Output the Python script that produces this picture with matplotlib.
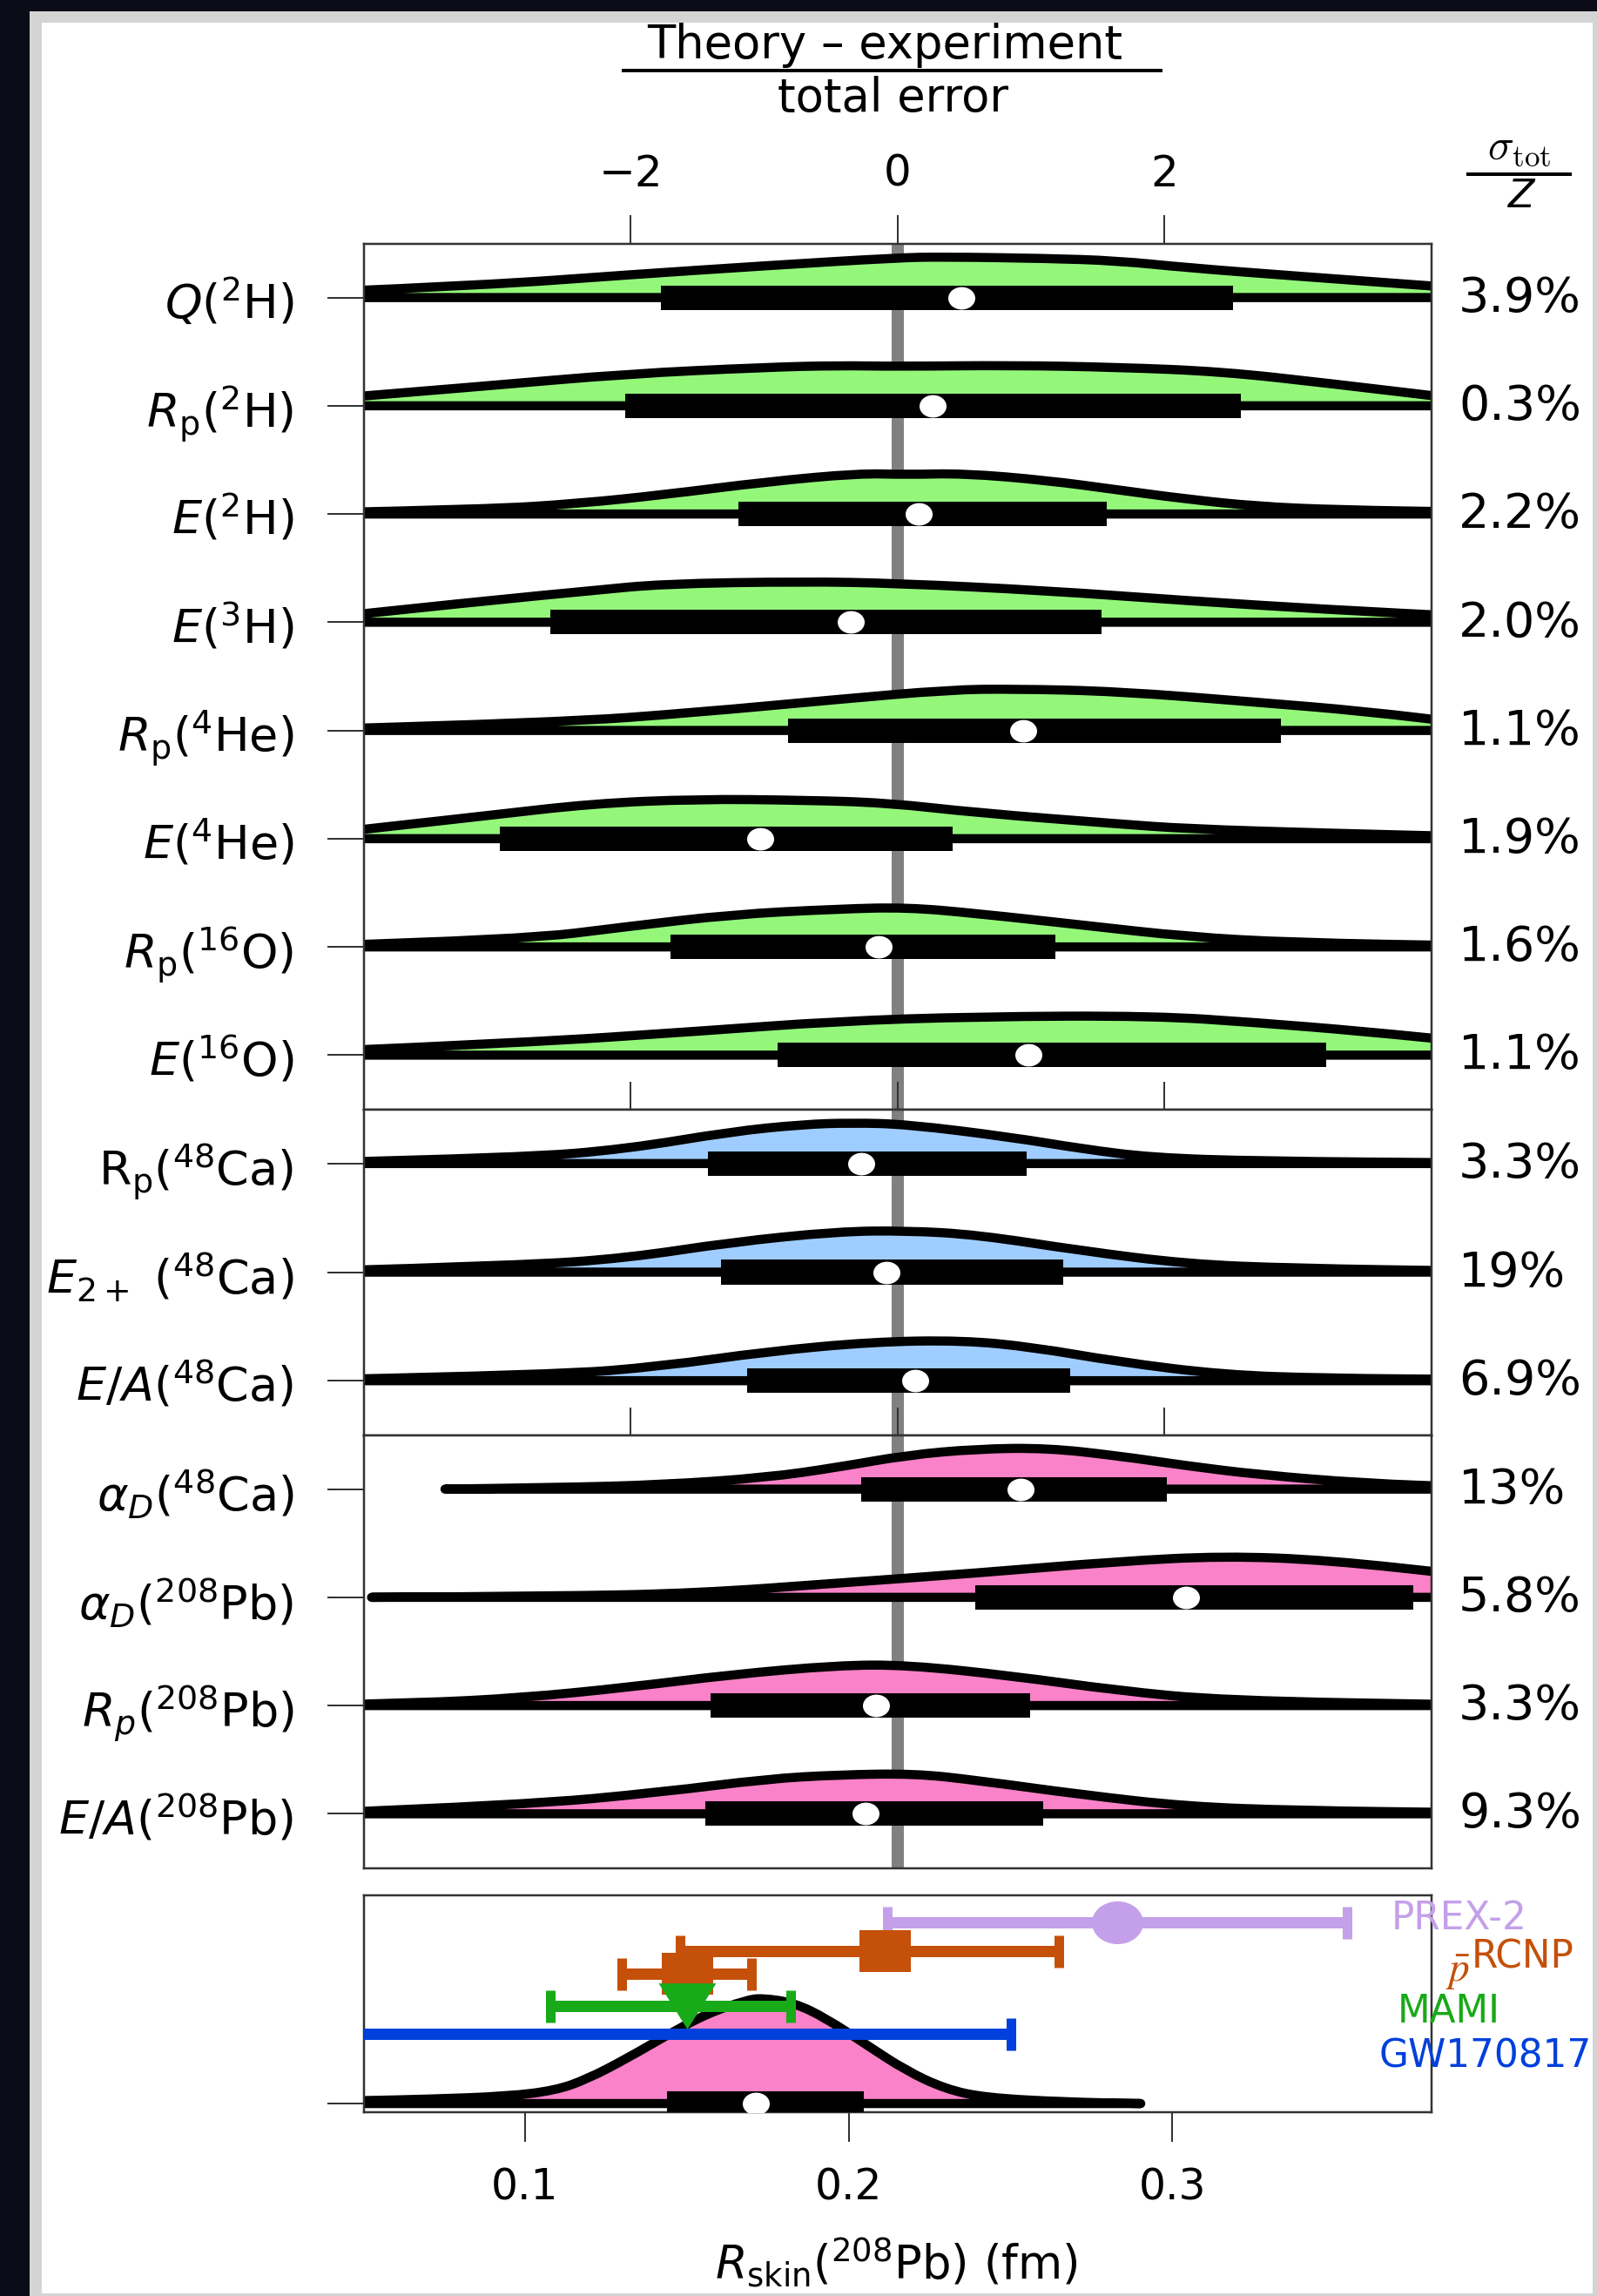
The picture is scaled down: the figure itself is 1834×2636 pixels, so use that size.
import numpy as np
import matplotlib
matplotlib.use('Agg')
import matplotlib.pyplot as plt
import matplotlib.transforms as mtransforms
from matplotlib.path import Path
from matplotlib.patches import Rectangle, PathPatch
from matplotlib.lines import Line2D

plt.rcParams['font.family'] = ['DejaVu Sans']
plt.rcParams['mathtext.fontset'] = 'dejavusans'

W, H, DPI = 1834, 2636, 100
PX = 72.0 / DPI   # points per pixel

# ---------------- data: (theory - experiment) / total error ----------------
light_labels = [r'$Q(^{2}\mathrm{H})$', r'$R_{\mathrm{p}}(^{2}\mathrm{H})$', r'$E(^{2}\mathrm{H})$',
                r'$E(^{3}\mathrm{H})$', r'$R_{\mathrm{p}}(^{4}\mathrm{He})$', r'$E(^{4}\mathrm{He})$',
                r'$R_{\mathrm{p}}(^{16}\mathrm{O})$', r'$E(^{16}\mathrm{O})$']
light_pct = ['3.9%', '0.3%', '2.2%', '2.0%', '1.1%', '1.9%', '1.6%', '1.1%']
light_q1 = [-1.77, -2.04, -1.19, -2.60, -0.82, -2.98, -1.70, -0.90]
light_q3 = [2.51, 2.57, 1.57, 1.53, 2.87, 0.41, 1.18, 3.21]
light_med = [0.48, 0.26, 0.16, -0.35, 0.94, -1.03, -0.14, 0.98]
light_kx = [
    [-4.3, -3.08, -2.03, -0.98, 0, 0.34, 1.12, 1.65, 2.17, 2.96, 4.3],
    [-4.3, -3.08, -2.03, -0.98, -0.45, 0, 0.86, 1.65, 2.43, 3.22, 4.3],
    [-4.3, -3.08, -2.39, -1.76, -0.98, -0.29, 0.07, 0.49, 1.12, 1.65, 2.17, 2.70, 3.3, 4.3],
    [-4.3, -3.08, -2.29, -1.76, -0.71, 0, 1.12, 2.17, 3.22, 4.3],
    [-4.3, -2.55, -1.50, -0.45, 0.39, 0.86, 1.65, 2.70, 3.49, 4.3],
    [-4.3, -3.08, -2.29, -1.50, -0.71, -0.08, 0.60, 1.65, 2.17, 3.22, 4.3],
    [-4.3, -2.81, -2.03, -1.24, -0.45, 0.07, 0.60, 1.39, 2.17, 2.96, 4.3],
    [-4.3, -2.81, -1.50, -0.45, 0.60, 1.91, 2.70, 3.49, 4.3],
]
light_kh = [
    [0.052, 0.115, 0.209, 0.295, 0.368, 0.376, 0.362, 0.340, 0.276, 0.201, 0.080],
    [0.060, 0.183, 0.295, 0.356, 0.372, 0.364, 0.374, 0.356, 0.316, 0.209, 0.050],
    [0.012, 0.043, 0.097, 0.177, 0.298, 0.376, 0.364, 0.376, 0.311, 0.223, 0.137, 0.070, 0.038, 0.018],
    [0.040, 0.199, 0.292, 0.355, 0.376, 0.360, 0.292, 0.199, 0.118, 0.050],
    [0.012, 0.072, 0.167, 0.287, 0.376, 0.384, 0.362, 0.260, 0.179, 0.060],
    [0.045, 0.212, 0.324, 0.366, 0.356, 0.332, 0.239, 0.137, 0.091, 0.051, 0.018],
    [0.012, 0.067, 0.187, 0.300, 0.350, 0.366, 0.308, 0.201, 0.094, 0.040, 0.010],
    [0.035, 0.113, 0.220, 0.314, 0.356, 0.364, 0.300, 0.220, 0.120],
]

ca_labels = [r'$\mathrm{R}_{\mathrm{p}}(^{48}\mathrm{Ca})$', r'$E_{2+}\ (^{48}\mathrm{Ca})$',
             r'$E/A(^{48}\mathrm{Ca})$']
ca_pct = ['3.3%', '19%', '6.9%']
ca_q1 = [-1.42, -1.32, -1.13]
ca_q3 = [0.97, 1.24, 1.29]
ca_med = [-0.27, -0.08, 0.13]
ca_kx = [
    [-4.3, -2.81, -2.03, -1.24, -0.71, -0.35, 0.07, 0.86, 1.39, 1.91, 2.70, 4.3],
    [-4.3, -2.81, -2.03, -1.24, -0.45, 0.07, 0.60, 1.39, 2.17, 2.96, 4.3],
    [-4.3, -2.55, -1.76, -0.98, -0.19, 0.49, 1.02, 1.65, 2.44, 3.22, 4.3],
]
ca_kh = [
    [0.010, 0.054, 0.134, 0.295, 0.360, 0.375, 0.362, 0.241, 0.134, 0.054, 0.022, 0.006],
    [0.010, 0.062, 0.129, 0.276, 0.374, 0.382, 0.344, 0.195, 0.075, 0.035, 0.010],
    [0.010, 0.054, 0.134, 0.268, 0.358, 0.372, 0.308, 0.175, 0.054, 0.022, 0.012],
]

heavy_labels = [r'$\alpha_D(^{48}\mathrm{Ca})$', r'$\alpha_D(^{208}\mathrm{Pb})$',
                r'$R_p(^{208}\mathrm{Pb})$', r'$E/A(^{208}\mathrm{Pb})$']
heavy_pct = ['13%', '5.8%', '3.3%', '9.3%']
heavy_q1 = [-0.27, 0.58, -1.40, -1.44]
heavy_q3 = [2.02, 3.86, 0.99, 1.09]
heavy_med = [0.92, 2.16, -0.16, -0.24]
heavy_kx = [
    [-3.39, -2.55, -1.76, -0.98, -0.45, 0.07, 0.60, 1.12, 1.65, 2.17, 2.70, 3.49, 4.3],
    [-3.94, -2.55, -1.50, -0.45, 0.60, 1.65, 2.44, 3.22, 4.3],
    [-4.3, -3.6, -2.81, -2.03, -1.24, -0.45, 0.07, 0.86, 1.65, 2.44, 4.3],
    [-4.3, -2.81, -1.76, -0.98, -0.45, 0.13, 0.60, 1.39, 2.17, 3.0, 4.3],
]
heavy_kh = [
    [0.0, 0.014, 0.040, 0.107, 0.201, 0.314, 0.372, 0.380, 0.308, 0.215, 0.134, 0.054, 0.018],
    [0.0, 0.010, 0.038, 0.131, 0.225, 0.332, 0.382, 0.345, 0.200],
    [0.006, 0.022, 0.072, 0.167, 0.287, 0.372, 0.376, 0.274, 0.139, 0.046, 0.006],
    [0.008, 0.080, 0.201, 0.322, 0.360, 0.372, 0.308, 0.175, 0.067, 0.030, 0.010],
]

# R_skin(208Pb) posterior (fm)
skin_kx = [0.030, 0.0503, 0.0699, 0.0946, 0.1094, 0.1192, 0.1315, 0.1438, 0.1561, 0.1684,
           0.1733, 0.1832, 0.1930, 0.2053, 0.2176, 0.2299, 0.2422, 0.2668, 0.2902]
skin_kh = [0.015, 0.027, 0.040, 0.067, 0.121, 0.225, 0.416, 0.630, 0.829, 0.955,
           0.975, 0.930, 0.788, 0.547, 0.306, 0.134, 0.054, 0.014, 0.0]
skin_q1, skin_q3, skin_med = 0.1438, 0.2046, 0.1713

# experiments: value, lower end, upper end
exp_names = ['GW170817', 'PREX-2', 'RCNP', 'pbar', 'MAMI']
exp_val = [0.125, 0.283, 0.211, 0.150, 0.150]
exp_lo = [0.000, 0.212, 0.148, 0.130, 0.108]
exp_hi = [0.250, 0.354, 0.265, 0.170, 0.182]
exp_row = [0.644, 1.676, 1.408, 1.199, 0.903]
exp_col = ['#0040dc', '#c4a0ea', '#c4500a', '#c4500a', '#18aa18']

green, blue, pink = '#94f77a', '#a0cdff', '#fa82c8'
spine_c = '#333333'
LW = 10.5 * PX
BOX_H = 28 / 124.3

# marker shapes (picture is slightly stretched horizontally)
circ = Path.unit_circle()
ell_m = Path(circ.vertices * np.array([1.2, 1.0]), circ.codes)
sq_m = Path([(-1.25, -1), (1.25, -1), (1.25, 1), (-1.25, 1), (-1.25, -1)],
            [Path.MOVETO, Path.LINETO, Path.LINETO, Path.LINETO, Path.CLOSEPOLY])
tri_m = Path([(-1.25, 1), (1.25, 1), (0, -1), (-1.25, 1)],
             [Path.MOVETO, Path.LINETO, Path.LINETO, Path.CLOSEPOLY])
exp_marker = [None, ell_m, sq_m, sq_m, tri_m]
exp_ms = [0, 59, 59, 59, 66]

fig = plt.figure(figsize=(W / DPI, H / DPI), dpi=DPI, facecolor='white')
tr = mtransforms.Affine2D().scale(1, -1).translate(0, H)   # pixel coords, y from top


def px_axes(l, t, r, b):
    return fig.add_axes([l / W, 1 - b / H, (r - l) / W, (b - t) / H])


def violin(ax, kx, kh, row, col, up):
    # knots are used as quadratic Bezier control points, so the outline is drawn smooth
    pts = [(x, row + up * h) for x, h in zip(kx, kh)]
    verts = [pts[0]]
    codes = [Path.MOVETO]
    for i in range(1, len(pts) - 1):
        mid = ((pts[i][0] + pts[i + 1][0]) / 2, (pts[i][1] + pts[i + 1][1]) / 2)
        verts += [pts[i], mid]
        codes += [Path.CURVE3, Path.CURVE3]
    verts += [pts[-1], (kx[-1], row), (kx[0], row), pts[0]]
    codes += [Path.LINETO, Path.LINETO, Path.LINETO, Path.CLOSEPOLY]
    ax.add_patch(PathPatch(Path(verts, codes), facecolor=col, edgecolor='black', lw=LW,
                           joinstyle='round', capstyle='round', zorder=2))


def box(ax, q1, q3, med, row):
    ax.add_patch(Rectangle((q1, row - BOX_H / 2), q3 - q1, BOX_H, facecolor='black',
                           edgecolor='none', zorder=3))
    ax.plot([med], [row], marker=ell_m, ms=31 * PX, color='white', mew=0, zorder=4)


def style(ax):
    for s in ax.spines.values():
        s.set_linewidth(2.5 * PX)
        s.set_color(spine_c)
    ax.tick_params(axis='y', left=True, right=False, direction='out', length=42 * PX,
                   width=2 * PX, color=spine_c, pad=38 * PX, labelsize=39)


ax1 = px_axes(417.5, 279.5, 1644, 1273.5)
ax2 = px_axes(417.5, 1273.5, 1644, 1647.5)
ax3 = px_axes(417.5, 1647.5, 1644, 2144.5)
ax4 = px_axes(417.5, 2176, 1644, 2425)

panels = [(ax1, light_labels, light_pct, light_kx, light_kh, light_q1, light_q3, light_med, green),
          (ax2, ca_labels, ca_pct, ca_kx, ca_kh, ca_q1, ca_q3, ca_med, blue),
          (ax3, heavy_labels, heavy_pct, heavy_kx, heavy_kh, heavy_q1, heavy_q3, heavy_med, pink)]

for ax, labs, pct, kx, kh, q1, q3, med, col in panels:
    n = len(labs)
    ax.set_xlim(-4, 4)
    ax.set_ylim(n - 0.5, -0.5)
    ax.axvline(0, color='#808080', lw=14 * PX, zorder=1)
    for i in range(n):
        violin(ax, kx[i], kh[i], i, col, -1)
        box(ax, q1[i], q3[i], med[i], i)
    style(ax)
    ax.set_yticks(range(n))
    ax.set_yticklabels(labs)
    ax.set_xticks([-2, 0, 2])
    ax.tick_params(axis='x', bottom=False, labelbottom=False, top=True, labeltop=False,
                   direction='out', length=32 * PX, width=2 * PX, color=spine_c)
    ptr = mtransforms.offset_copy(ax.get_yaxis_transform(), fig=fig, y=5 * PX, units='points')
    for i, p in enumerate(pct):
        ax.text(1.0253, i, p, transform=ptr, ha='left', va='center_baseline', fontsize=40)

ax1.tick_params(axis='x', labeltop=True, length=33 * PX, pad=23 * PX, labelsize=36)

# bottom panel: R_skin
ax4.set_xlim(0.0502, 0.380)
ax4.set_ylim(-0.080, 1.923)
violin(ax4, skin_kx, skin_kh, 0, pink, 1)
box(ax4, skin_q1, skin_q3, skin_med, 0)
for v, lo, hi, r, c, m, ms in zip(exp_val, exp_lo, exp_hi, exp_row, exp_col, exp_marker, exp_ms):
    ax4.errorbar([v], [r], xerr=[[v - lo], [hi - v]], fmt='none', ecolor=c,
                 elinewidth=13 * PX, capsize=18.5 * PX, capthick=11 * PX, zorder=5)
    if m is not None:
        ax4.plot([v], [r], marker=m, ms=ms * PX, color=c, mew=0, zorder=6)
style(ax4)
ax4.set_yticks([0])
ax4.set_yticklabels([''])
ax4.set_xticks([0.1, 0.2, 0.3])
ax4.set_xticklabels(['0.1', '0.2', '0.3'])
ax4.tick_params(axis='x', top=False, bottom=True, direction='out', length=34 * PX,
                width=2 * PX, color=spine_c, pad=28 * PX, labelsize=35)

# experiment labels
fig.text(1598, 2215, 'PREX-2', color='#c4a0ea', fontsize=31.5, transform=tr, va='baseline')
fig.text(1690, 2260, 'RCNP', color='#c4500a', fontsize=31.5, transform=tr, va='baseline')
fig.text(1660, 2275, r'$\bar{p}$', color='#c4500a', fontsize=34, transform=tr, va='baseline',
         math_fontfamily='stix')
fig.text(1605, 2322, 'MAMI', color='#18aa18', fontsize=31.5, transform=tr, va='baseline')
fig.text(1584, 2373, 'GW170817', color='#0040dc', fontsize=31.5, transform=tr, va='baseline')

# titles
fig.text(1016, 67, 'Theory \u2013 experiment', fontsize=38, ha='center', va='baseline', transform=tr)
fig.add_artist(Line2D([716, 1333], [81, 81], color='black', lw=4 * PX, transform=tr))
fig.text(1026, 128, 'total error', fontsize=38, ha='center', va='baseline', transform=tr)
fig.text(1745, 182, r'$\sigma_{\mathrm{tot}}$', fontsize=36, ha='center', va='baseline',
         transform=tr, math_fontfamily='cm')
fig.add_artist(Line2D([1686, 1803], [200, 200], color='black', lw=4 * PX, transform=tr))
fig.text(1748, 238, r'$Z$', fontsize=32, ha='center', va='baseline', transform=tr)
fig.text(1029, 2616, r'$R_{\mathrm{skin}}(^{208}\mathrm{Pb})$ (fm)', fontsize=38, ha='center',
         va='baseline', transform=tr)

# screenshot frame
for x, y, w, h, c in [(0, 0, 34, H, '#0b0c17'), (0, 0, W, 13, '#0b0c17'),
                      (34, 13, 14, H, '#d4d4d4'), (34, 13, W, 13, '#d4d4d4'),
                      (1829, 13, 5, H, '#d4d4d4'), (34, 2633, W, 3, '#d4d4d4')]:
    fig.add_artist(Rectangle((x, y), w, h, facecolor=c, edgecolor='none', transform=tr, zorder=20))

fig.savefig('out.png', dpi=DPI, facecolor='white')
